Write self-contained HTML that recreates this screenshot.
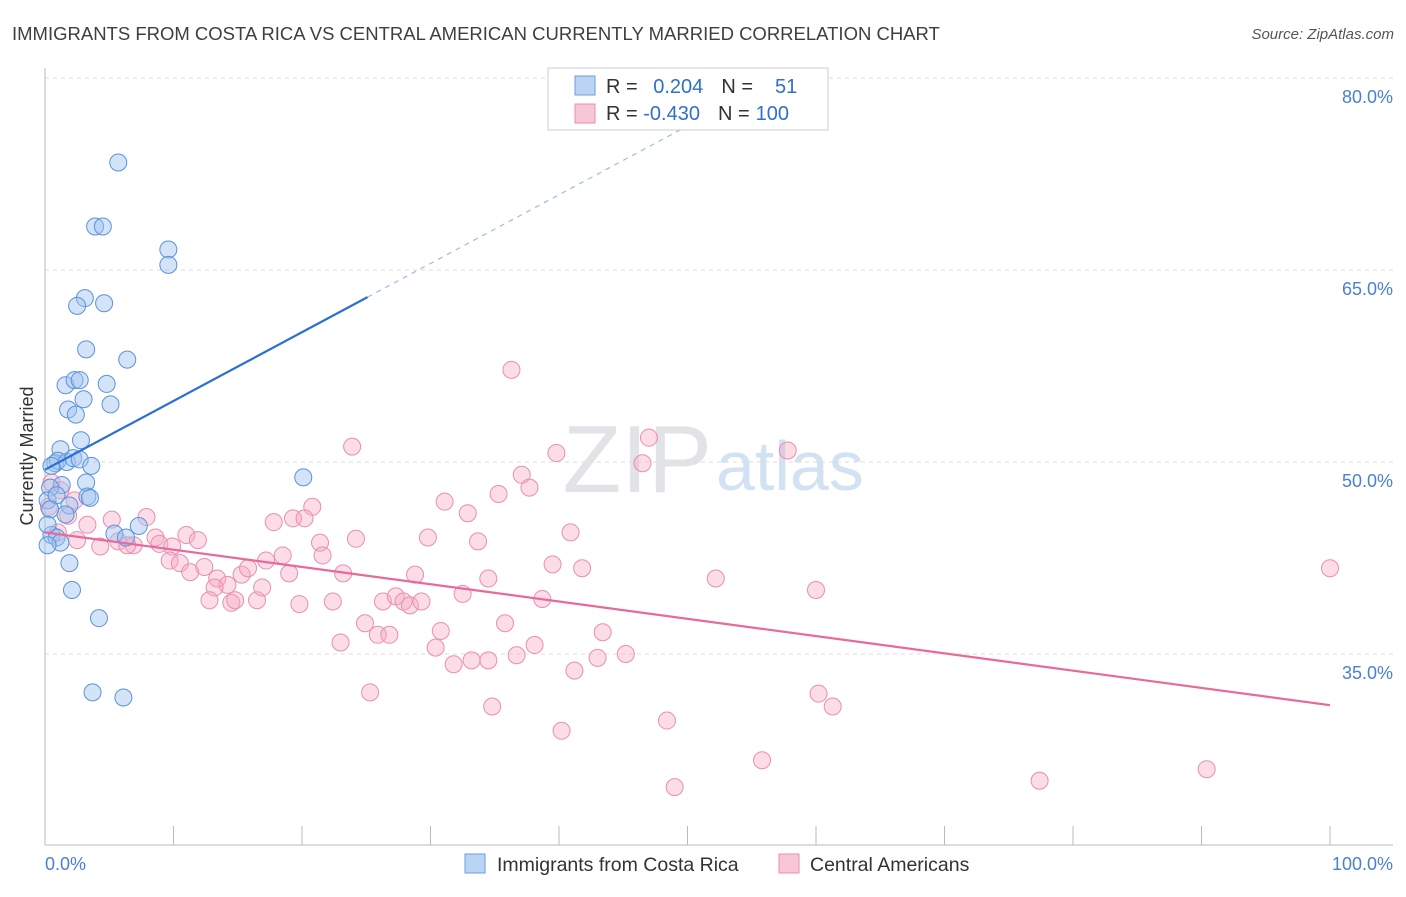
<!DOCTYPE html>
<html><head><meta charset="utf-8"><style>
body{margin:0;background:#fff;font-family:"Liberation Sans",sans-serif}
svg text{font-family:"Liberation Sans",sans-serif}
</style></head><body>
<svg id="chart" width="1406" height="892" xmlns="http://www.w3.org/2000/svg">
<text x="12" y="40" font-size="18.5" fill="#3c4043">IMMIGRANTS FROM COSTA RICA VS CENTRAL AMERICAN CURRENTLY MARRIED CORRELATION CHART</text>
<text x="1394" y="39" font-size="15" fill="#555" font-style="italic" text-anchor="end">Source: ZipAtlas.com</text>
<text x="712" y="492" font-size="96" fill="#e2e3e6" font-family="Liberation Serif,serif" text-anchor="end">ZIP</text>
<text x="716" y="490" font-size="70" fill="#d3e2f3">atlas</text>
<g id="grid"></g>
<g id="axes"></g>
<g id="pts"></g>
<g id="lines"></g>
<text x="33" y="456" font-size="18" fill="#333" text-anchor="middle" transform="rotate(-90 33 456)">Currently Married</text>
<text x="45" y="870" font-size="18" fill="#4a7fd4">0.0%</text>
<text x="1393" y="870" font-size="18" fill="#4a7fd4" text-anchor="end">100.0%</text>
<g>
<rect x="548" y="68" width="280" height="62" fill="#fff" stroke="#ccc"/>
<rect x="575" y="76" width="20" height="19" fill="#bcd4f4" stroke="#6a9be0"/>
<rect x="575" y="104" width="20" height="19" fill="#f8c6d6" stroke="#ea8fae"/>
<text x="606" y="93" font-size="20" fill="#333">R = <tspan fill="#2f6fd0" dx="10">0.204</tspan><tspan dx="18">N =</tspan><tspan fill="#2f6fd0" dx="22">51</tspan></text>
<text x="606" y="120" font-size="20" fill="#333">R = <tspan fill="#2f6fd0">-0.430</tspan><tspan dx="18">N =</tspan><tspan fill="#2f6fd0" dx="6">100</tspan></text>
</g>
<g>
<rect x="465" y="854" width="20" height="19" fill="#bcd4f4" stroke="#6a9be0"/>
<text x="497" y="871" font-size="19.5" fill="#333">Immigrants from Costa Rica</text>
<rect x="779" y="854" width="20" height="19" fill="#f8c6d6" stroke="#ea8fae"/>
<text x="810" y="871" font-size="19.5" fill="#333">Central Americans</text>
</g>
</svg>
<script>
const yTicks=[80,65,50,35];
const yTickLabels=["80.0%","65.0%","50.0%","35.0%"];
const xTicks=[0,10,20,30,40,50,60,70,80,90,100];
const blueX=[5.7,3.9,4.5,9.6,9.6,3.1,2.5,4.6,3.2,6.4,1.6,2.3,2.7,4.8,3.0,1.8,5.1,2.4,2.8,1.2,0.8,1.0,1.7,2.2,2.7,3.6,0.5,3.2,1.3,3.3,20.1,0.4,0.2,0.9,1.9,1.6,0.4,7.3,5.4,6.3,0.5,0.9,1.2,0.2,1.9,2.1,4.2,3.7,6.1,0.2,3.5];
const blueY=[73.4,68.4,68.4,66.6,65.4,62.8,62.2,62.4,58.8,58.0,56.0,56.4,56.4,56.1,54.9,54.1,54.5,53.7,51.7,51.0,49.9,50.1,50.0,50.3,50.2,49.7,49.7,48.4,48.2,47.3,48.8,48.0,47.0,47.4,46.6,45.9,46.3,45.0,44.4,44.1,44.3,44.1,43.7,43.5,42.1,40.0,37.8,32.0,31.6,45.1,47.2];
const pinkX=[36.3,23.9,47.0,39.8,46.5,57.8,37.1,37.7,35.3,31.1,32.9,20.8,19.3,20.2,17.8,40.9,29.8,24.2,33.7,21.4,7.9,5.2,3.3,0.5,1.2,1.8,2.5,4.3,5.7,6.9,8.6,8.9,9.9,11.0,11.9,9.7,10.5,11.3,12.4,13.4,14.2,15.3,15.8,17.2,18.5,19.0,21.6,23.2,13.2,14.5,12.8,14.8,16.5,16.9,19.8,22.4,26.3,27.3,27.9,28.4,29.3,28.8,32.5,34.5,38.7,39.5,41.8,52.2,60.0,100,24.9,35.8,30.8,25.9,26.8,30.4,34.5,36.7,38.1,43.4,45.2,43.0,41.2,31.8,33.2,23.0,25.3,34.8,40.2,48.4,60.2,61.3,55.8,49.0,77.4,90.4,2.3,6.4,0.3,1.0];
const pinkY=[57.2,51.2,51.9,50.7,49.9,50.9,49.0,48.0,47.5,46.9,46.0,46.5,45.6,45.6,45.3,44.5,44.1,44.0,43.8,43.7,45.7,45.5,45.1,48.4,47.8,45.8,43.9,43.4,43.8,43.5,44.1,43.6,43.4,44.3,43.9,42.3,42.1,41.4,41.8,40.9,40.4,41.2,41.7,42.3,42.7,41.3,42.7,41.3,40.2,39.0,39.2,39.2,39.2,40.2,38.9,39.1,39.1,39.5,39.1,38.8,39.1,41.2,39.7,40.9,39.3,42.0,41.7,40.9,40.0,41.7,37.4,37.4,36.8,36.5,36.5,35.5,34.5,34.9,35.7,36.7,35.0,34.7,33.7,34.2,34.5,35.9,32.0,30.9,29.0,29.8,31.9,30.9,26.7,24.6,25.1,26.0,47.0,43.5,46.5,44.5];
const blueTrend=[49.4,0.537];
const pinkTrend=[44.5,-0.135];
const X0=45,X1=1330,Y80=78,PXPER=12.8;
const sx=v=>X0+(X1-X0)*v/100;
const sy=v=>Y80+(80-v)*PXPER;
const NS="http://www.w3.org/2000/svg";
function mk(tag,attrs,parent){const e=document.createElementNS(NS,tag);for(const k in attrs)e.setAttribute(k,attrs[k]);parent.appendChild(e);return e;}
const grid=document.getElementById('grid'),axes=document.getElementById('axes'),pts=document.getElementById('pts'),lines=document.getElementById('lines');
yTicks.forEach((t,i)=>{
 const l=mk('line',{x1:45,x2:1393,y1:sy(t),y2:sy(t),stroke:'#dcdcdc','stroke-dasharray':'4,4'},grid);
 
 
 const tx=mk('text',{x:1393,y:sy(t)+25,'font-size':18,fill:'#4a7fd4','text-anchor':'end'},grid);
 tx.textContent=yTickLabels[i];
 
 
});
const ya=mk('line',{x1:45,x2:45,y1:68,y2:845,stroke:'#bbb'},axes);


const xa=mk('line',{x1:45,x2:1393,y1:845,y2:845,stroke:'#bbb'},axes);


xTicks.forEach(t=>{
 const l=mk('line',{x1:sx(t),x2:sx(t),y1:826,y2:845,stroke:'#bbb'},axes);
 
 
});
pinkX.forEach((x,i)=>{
 const c=mk('circle',{cx:sx(x),cy:sy(pinkY[i]),r:8.5,fill:'rgba(246,168,194,0.4)',stroke:'#ea8fae','stroke-width':1},pts);
 
 
});
blueX.forEach((x,i)=>{
 const c=mk('circle',{cx:sx(x),cy:sy(blueY[i]),r:8.5,fill:'rgba(160,196,240,0.45)',stroke:'#5b92dc','stroke-width':1},pts);
 
 
});
const bEnd=25.1;
const bTop=(80-blueTrend[0])/blueTrend[1];
const b1=mk('line',{x1:sx(0),y1:sy(blueTrend[0]),x2:sx(bEnd),y2:sy(blueTrend[0]+blueTrend[1]*bEnd),stroke:'#2a6fd6','stroke-width':2.2},lines);


const b2=mk('line',{x1:sx(bEnd),y1:sy(blueTrend[0]+blueTrend[1]*bEnd),x2:sx(bTop),y2:sy(80),stroke:'#9dbbe6','stroke-width':1.2,'stroke-dasharray':'5,5'},lines);


const p1=mk('line',{x1:sx(0),y1:sy(pinkTrend[0]),x2:sx(100),y2:sy(pinkTrend[0]+pinkTrend[1]*100),stroke:'#e8699a','stroke-width':2.2},lines);


</script>
</body></html>
